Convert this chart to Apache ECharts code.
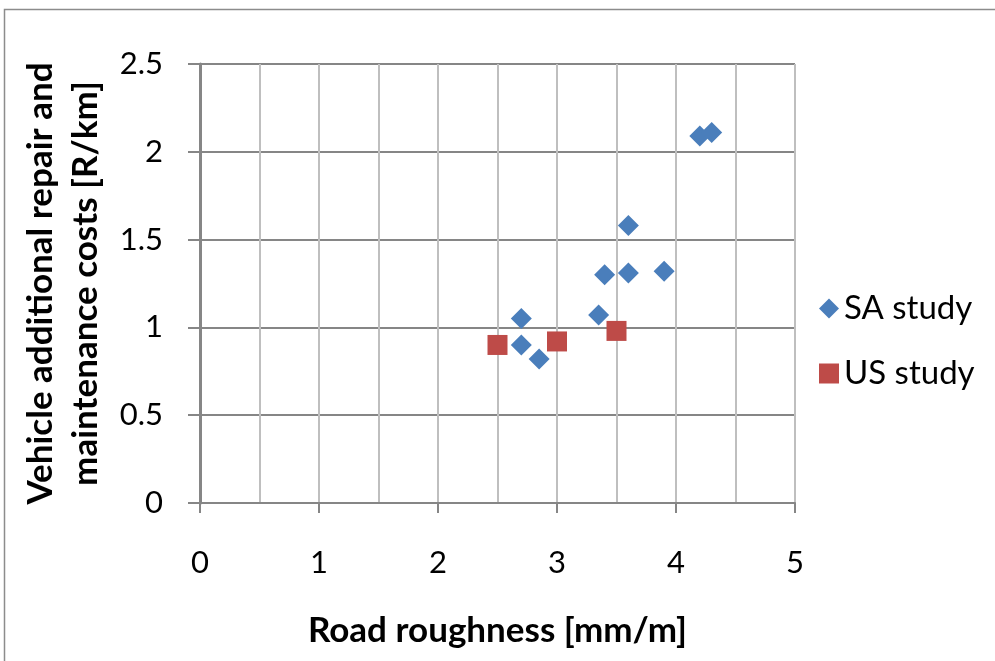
<!DOCTYPE html>
<html><head><meta charset="utf-8">
<script src="https://cdn.jsdelivr.net/npm/echarts@6/dist/echarts.min.js"></script>
<style>html,body{margin:0;padding:0;background:#fff}#c{width:995px;height:661px}</style>
</head><body><div id="c"></div>
<script>
const saX = [2.7, 2.7, 2.85, 3.35, 3.4, 3.6, 3.6, 3.9, 4.2, 4.3];
const saY = [1.05, 0.9, 0.82, 1.07, 1.3, 1.58, 1.31, 1.32, 2.09, 2.11];
const usX = [2.5, 3.0, 3.5];
const usY = [0.9, 0.92, 0.98];
const seriesNames = ['SA study', 'US study'];
const xTitle = 'Road roughness [mm/m]';
const yTitle = 'Vehicle additional repair and\nmaintenance costs [R/km]';

const font = 'Lato, "Open Sans", sans-serif';
const chart = echarts.init(document.getElementById('c'));
chart.setOption({
  animation: false,
  backgroundColor: '#fff',
  graphic: [{type:'rect', shape:{x:4.5,y:9.5,width:1100,height:800}, style:{fill:'none', stroke:'#8c8c8c', lineWidth:1.5}, z:-1}],
  grid: {left:200, right:200, top:64, bottom:158, outerBoundsMode:'none', containLabel:false},
  legend: {
    orient:'vertical', left:814, top:287, itemGap:32, itemWidth:20, itemHeight:20,
    textStyle:{fontSize:33, fontFamily:font, color:'#000'},
    data: seriesNames
  },
  xAxis: {
    type:'value', min:0, max:5, interval:1,
    name: xTitle, nameLocation:'middle', nameGap:110,
    nameTextStyle:{fontSize:35, fontWeight:'bold', fontFamily:font, color:'#000'},
    axisLine:{show:true, onZero:false, lineStyle:{color:'#868686', width:2}},
    axisTick:{show:true, length:10, lineStyle:{color:'#868686', width:2}},
    axisLabel:{fontSize:31, fontFamily:font, color:'#000', margin:44},
    splitLine:{show:true, lineStyle:{color:'#bfbfbf', width:2}},
    minorTick:{show:false, splitNumber:2},
    minorSplitLine:{show:true, lineStyle:{color:'#bfbfbf', width:2}}
  },
  yAxis: {
    type:'value', min:0, max:2.5, interval:0.5,
    name: yTitle, nameLocation:'middle', nameGap:92,
    nameTextStyle:{fontSize:35, fontWeight:'bold', fontFamily:font, color:'#000', lineHeight:45},
    axisLine:{show:true, lineStyle:{color:'#868686', width:3}},
    axisTick:{show:true, length:12, lineStyle:{color:'#868686', width:2}},
    axisLabel:{fontSize:31, fontFamily:font, color:'#000', margin:37},
    splitLine:{show:true, lineStyle:{color:'#868686', width:2}}
  },
  series: [
    {name:seriesNames[0], type:'scatter', symbol:'diamond', symbolSize:21,
     itemStyle:{color:'#4a7ebb', opacity:1}, data: saX.map((x,i)=>[x, saY[i]])},
    {name:seriesNames[1], type:'scatter', symbol:'rect', symbolSize:20,
     itemStyle:{color:'#be4b48', opacity:1}, data: usX.map((x,i)=>[x, usY[i]])}
  ]
});
</script></body></html>
